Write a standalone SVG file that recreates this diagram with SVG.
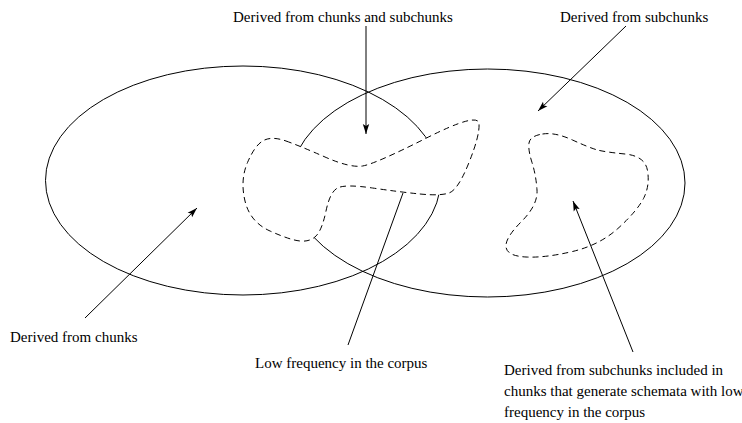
<svg xmlns="http://www.w3.org/2000/svg" width="742" height="423" viewBox="0 0 742 423">
<style>
.sol{fill:none;stroke:#000;stroke-width:1}
.dash{fill:#fff;stroke:#000;stroke-width:1;stroke-dasharray:6 4}
.lbl{font-family:"Liberation Serif","Times New Roman",serif;font-size:15px;fill:#000}
.ln{stroke:#000;stroke-width:1;fill:none}
</style>
<defs>
<marker id="ah" markerUnits="userSpaceOnUse" markerWidth="14" markerHeight="10" viewBox="-12 -5 14 10" refX="0" refY="0" orient="auto">
<path d="M0,0 L-10,-3.2 L-8,0 L-10,3.2 Z" fill="#000"/>
</marker>
</defs>
<rect width="742" height="423" fill="#fff"/>
<g id="set-chunks"><ellipse class="sol" cx="243" cy="180.5" rx="197.5" ry="114.5"/></g>
<g id="set-subchunks"><ellipse class="sol" cx="487.5" cy="183" rx="197.5" ry="114"/></g>
<g id="region-low-frequency"><path class="dash" d="M286,141 Q300,146 325,157 Q350,168 362.5,166 Q375,164 426.5,138 Q478,112 479,123.5 Q480,135 469,162.5 Q458,190 449,193 Q440,196 420,194 Q400,192 372.5,188 Q345,184 337.5,188 Q330,192 326,211 Q322,230 316,236 Q310,242 300,241 Q290,240 270,231 Q250,222 245,201 Q240,180 247.5,162.5 Q255,145 263.5,140.5 Q272,136 286,141 Z"/></g>
<g id="region-subchunks-low"><path class="dash" d="M542.5,134 Q555,132 572.5,140 Q590,148 597.5,150 Q605,152 625,154 Q645,156 647.5,170.5 Q650,185 644,197.5 Q638,210 619,227.5 Q600,245 572.5,251.5 Q545,258 526,257 Q507,256 506,247 Q505,238 521.5,221.5 Q538,205 537,190 Q536,175 532,162.5 Q528,150 529,143 Q530,136 542.5,134 Z"/></g>
<g id="connectors">
<line class="ln" x1="366" y1="26" x2="366" y2="134" marker-end="url(#ah)"/>
<line class="ln" x1="626" y1="26" x2="538" y2="111" marker-end="url(#ah)"/>
<line class="ln" x1="85" y1="318" x2="197" y2="208" marker-end="url(#ah)"/>
<line class="ln" x1="348" y1="345" x2="403" y2="193"/>
<line class="ln" x1="633" y1="352" x2="573" y2="201" marker-end="url(#ah)"/>
</g>
<g id="label-both"><text class="lbl" x="233" y="22">Derived from chunks and subchunks</text></g>
<g id="label-subchunks"><text class="lbl" x="560" y="22">Derived from subchunks</text></g>
<g id="label-chunks"><text class="lbl" x="10" y="342">Derived from chunks</text></g>
<g id="label-low"><text class="lbl" x="255" y="368">Low frequency in the corpus</text></g>
<g id="label-included"><text class="lbl" x="504" y="375">Derived from subchunks included in</text><text class="lbl" x="504" y="396">chunks that generate schemata with low</text><text class="lbl" x="504" y="417">frequency in the corpus</text></g>
</svg>
